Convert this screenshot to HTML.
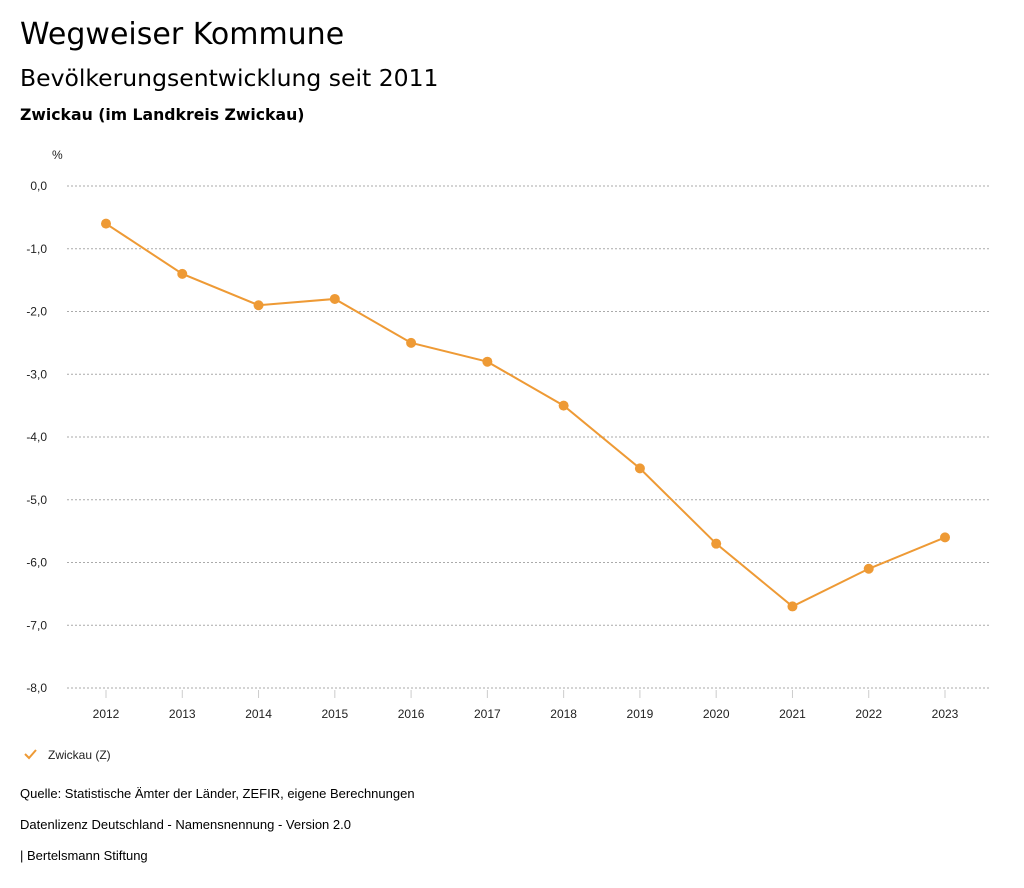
<!DOCTYPE html>
<html><head><meta charset="utf-8"><style>
body{margin:0;width:1024px;height:888px;background:#fff;font-family:"Liberation Sans",sans-serif;color:#000;position:relative;overflow:hidden}
.t{position:absolute;left:20px;white-space:nowrap}
</style></head><body>
<div class="t" style="top:17px;font-size:30px;font-family:'DejaVu Sans',sans-serif">Wegweiser Kommune</div>
<div class="t" style="top:64px;font-size:23.5px;font-family:'DejaVu Sans',sans-serif">Bevölkerungsentwicklung seit 2011</div>
<div class="t" style="top:105px;font-size:15.7px;font-weight:bold;font-family:'DejaVu Sans',sans-serif">Zwickau (im Landkreis Zwickau)</div>
<svg id="chart" width="1024" height="888" style="position:absolute;left:0;top:0" font-family="Liberation Sans, sans-serif"></svg>
<div class="t" style="top:786px;font-size:13px">Quelle: Statistische Ämter der Länder, ZEFIR, eigene Berechnungen</div>
<div class="t" style="top:817px;font-size:13px">Datenlizenz Deutschland - Namensnennung - Version 2.0</div>
<div class="t" style="top:848px;font-size:13px">| Bertelsmann Stiftung</div>
<script>
const years=["2012","2013","2014","2015","2016","2017","2018","2019","2020","2021","2022","2023"];
const values=[-0.6,-1.4,-1.9,-1.8,-2.5,-2.8,-3.5,-4.5,-5.7,-6.7,-6.1,-5.6];
const yTicks=[0,-1,-2,-3,-4,-5,-6,-7,-8];
const yTickLabels=["0,0","-1,0","-2,0","-3,0","-4,0","-5,0","-6,0","-7,0","-8,0"];
const seriesName="Zwickau (Z)";
const svg=document.getElementById('chart');
const NS="http://www.w3.org/2000/svg";
const x0=106,xStep=(945-106)/11,y0=186,yUnit=(688-186)/8;
const xs=i=>x0+i*xStep, ys=v=>y0-v*yUnit;
function mk(t,a){const e=document.createElementNS(NS,t);for(const k in a)e.setAttribute(k,a[k]);svg.appendChild(e);return e;}
let u=mk('text',{x:52,y:159,'font-size':12,fill:'#222'});u.textContent='%';


yTicks.forEach((v,i)=>{
 const l=mk('line',{x1:67,x2:990,y1:ys(v),y2:ys(v),stroke:'#aaa','stroke-dasharray':'2,2'});
 
 
 const t=mk('text',{x:47,y:ys(v)+4,'font-size':12,'text-anchor':'end',fill:'#222'});t.textContent=yTickLabels[i];
 
 
});
years.forEach((y,i)=>{
 const l=mk('line',{x1:xs(i),x2:xs(i),y1:690,y2:698,stroke:'#ccc'});
 
 
 const t=mk('text',{x:xs(i),y:718,'font-size':12,'text-anchor':'middle',fill:'#222'});t.textContent=y;
 
 
});
const p=mk('polyline',{points:values.map((v,i)=>xs(i)+','+ys(v)).join(' '),fill:'none',stroke:'#ee9a35','stroke-width':2});


values.forEach((v,i)=>{
 const c=mk('circle',{cx:xs(i),cy:ys(v),r:5,fill:'#ee9a35'});
 
 
});
const g=mk('path',{d:'M25 754 L29 758 L36 750',fill:'none',stroke:'#ee9a35','stroke-width':2});


const lt=mk('text',{x:48,y:759,'font-size':12,fill:'#222'});lt.textContent=seriesName;


</script>
</body></html>
